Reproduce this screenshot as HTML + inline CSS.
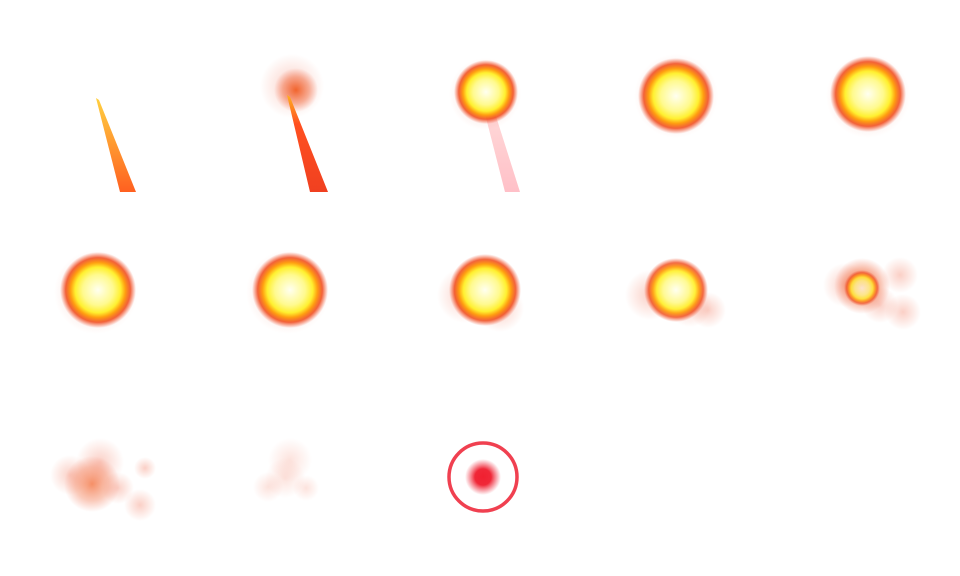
<!DOCTYPE html>
<html><head><meta charset="utf-8"><style>
html,body{margin:0;padding:0;background:#fff;width:960px;height:576px;overflow:hidden}
svg{display:block}
</style></head><body>
<svg width="960" height="576" viewBox="0 0 960 576">
<defs>
<radialGradient id="fire" cx="50%" cy="50%" r="50%">
<stop offset="0" stop-color="#fffff0"/><stop offset="0.4" stop-color="#fffa90"/><stop offset="0.6" stop-color="#fff030"/><stop offset="0.72" stop-color="#ffa010"/><stop offset="0.85" stop-color="#f04818" stop-opacity="0.85"/><stop offset="1" stop-color="#f05030" stop-opacity="0"/>
</radialGradient>
<radialGradient id="smoke" cx="50%" cy="50%" r="50%">
<stop offset="0" stop-color="#f06040" stop-opacity="0.3"/><stop offset="1" stop-color="#f06040" stop-opacity="0"/>
</radialGradient>
<radialGradient id="smokeDark" cx="50%" cy="50%" r="50%">
<stop offset="0" stop-color="#f05010" stop-opacity="0.85"/><stop offset="0.6" stop-color="#f06030" stop-opacity="0.45"/><stop offset="1" stop-color="#f06040" stop-opacity="0"/>
</radialGradient>
<radialGradient id="dot" cx="50%" cy="50%" r="50%">
<stop offset="0" stop-color="#f02030"/><stop offset="0.45" stop-color="#f02838"/><stop offset="1" stop-color="#f04050" stop-opacity="0"/>
</radialGradient>
<linearGradient id="streak" x1="0" y1="0" x2="0" y2="1">
<stop offset="0" stop-color="#ffd040"/><stop offset="1" stop-color="#ff6020"/>
</linearGradient>
<linearGradient id="streakRed" x1="0" y1="0" x2="0" y2="1">
<stop offset="0" stop-color="#ffb020"/><stop offset="0.3" stop-color="#ff5020"/><stop offset="1" stop-color="#f04020"/>
</linearGradient>
<linearGradient id="streakPink" x1="0" y1="0" x2="0" y2="1">
<stop offset="0" stop-color="#ffc0c0" stop-opacity="0.6"/><stop offset="1" stop-color="#ffc0c8"/>
</linearGradient>
</defs>

<!-- row 1 -->
<polygon points="96,98 99,100 136,192 120,192" fill="url(#streak)"/>
<g>
<circle cx="292" cy="86" r="32" fill="url(#smoke)"/>
<circle cx="296" cy="90" r="22" fill="url(#smokeDark)"/>
<polygon points="287,95 290,97 328,192 310,192" fill="url(#streakRed)"/>
</g>
<g>
<polygon points="484,110 494,110 520,192 505,192" fill="url(#streakPink)"/>
<circle cx="485" cy="94" r="36" fill="url(#smoke)"/>
<circle cx="486" cy="92" r="32" fill="url(#fire)"/>
</g>
<g>
<circle cx="676" cy="96" r="42" fill="url(#smoke)"/>
<circle cx="676" cy="96" r="38" fill="url(#fire)"/>
</g>
<g>
<circle cx="868" cy="96" r="42" fill="url(#smoke)"/>
<circle cx="868" cy="94" r="38" fill="url(#fire)"/>
</g>

<!-- row 2 -->
<g>
<circle cx="96" cy="292" r="42" fill="url(#smoke)"/>
<circle cx="98" cy="290" r="38" fill="url(#fire)"/>
</g>
<g>
<circle cx="288" cy="292" r="42" fill="url(#smoke)"/>
<circle cx="290" cy="290" r="38" fill="url(#fire)"/>
</g>
<g>
<circle cx="465" cy="295" r="28" fill="url(#smoke)"/>
<circle cx="500" cy="308" r="24" fill="url(#smoke)"/>
<circle cx="485" cy="290" r="36" fill="url(#fire)"/>
</g>
<g>
<circle cx="650" cy="295" r="25" fill="url(#smoke)"/>
<circle cx="708" cy="310" r="18" fill="url(#smoke)"/>
<circle cx="690" cy="305" r="22" fill="url(#smoke)"/>
<circle cx="676" cy="290" r="32" fill="url(#fire)" opacity="0.95"/>
</g>
<g>
<circle cx="845" cy="285" r="22" fill="url(#smoke)"/>
<circle cx="900" cy="275" r="18" fill="url(#smoke)"/>
<circle cx="903" cy="312" r="18" fill="url(#smoke)"/>
<circle cx="880" cy="305" r="18" fill="url(#smoke)"/>
<circle cx="862" cy="286" r="28" fill="url(#smokeDark)"/>
<circle cx="862" cy="288" r="18" fill="url(#fire)" opacity="0.8"/>
</g>

<!-- row 3 -->
<g>
<circle cx="100" cy="462" r="24" fill="url(#smoke)"/>
<circle cx="140" cy="505" r="16" fill="url(#smoke)"/>
<circle cx="145" cy="468" r="11" fill="url(#smoke)"/>
<circle cx="70" cy="475" r="20" fill="url(#smoke)"/>
<circle cx="92" cy="484" r="28" fill="url(#smokeDark)" opacity="0.75"/>
<circle cx="118" cy="488" r="16" fill="url(#smoke)"/>
</g>
<g>
<circle cx="290" cy="460" r="22" fill="url(#smoke)" opacity="0.6"/>
<circle cx="268" cy="487" r="15" fill="url(#smoke)" opacity="0.6"/>
<circle cx="306" cy="488" r="13" fill="url(#smoke)" opacity="0.6"/>
<circle cx="285" cy="478" r="20" fill="url(#smoke)" opacity="0.6"/>
</g>
<g>
<circle cx="483" cy="477" r="34" fill="none" stroke="#f04050" stroke-width="3.5"/>
<circle cx="483" cy="477" r="18" fill="url(#dot)"/>
</g>
</svg>
</body></html>
